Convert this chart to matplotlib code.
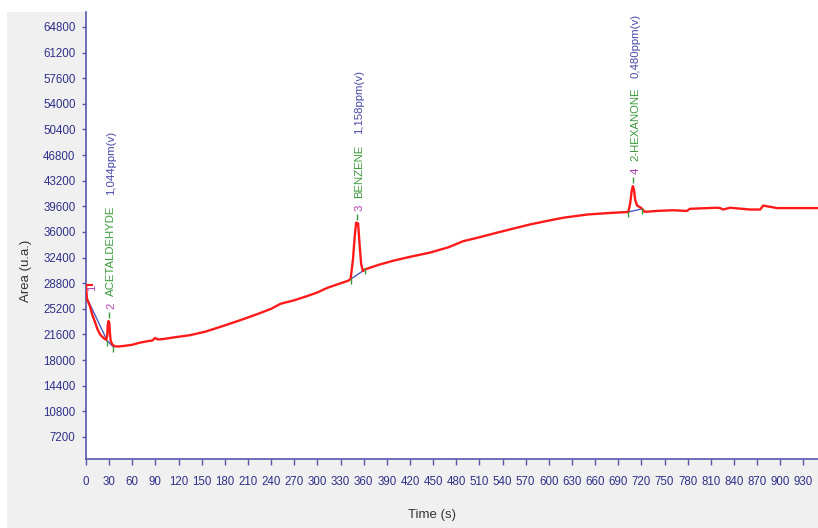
import matplotlib.pyplot as plt
from matplotlib.patches import Rectangle
from matplotlib import transforms

# chromatogram trace
time_s = [0, 1.3, 5, 8, 11.7, 15, 18, 22, 26, 27.5, 28.2, 29.2, 30.2, 31, 32, 34, 37,
          42, 50, 60, 70, 80, 86, 89.5, 93, 100, 115, 135, 155, 178, 200, 222, 240,
          252, 270, 287, 300, 313, 325, 340, 343, 346, 348.5, 350.2, 352.8, 354.5,
          356.7, 359, 362, 380, 400, 420, 446, 470, 489, 510, 533, 555, 576, 600,
          619, 650, 684, 703, 705.5, 707.5, 709, 710.5, 712, 714.5, 718, 721, 724,
          728, 740, 761, 779, 783, 818, 822, 826, 835, 861, 874, 878, 891, 896, 949]
area = [28500, 26550, 25600, 24400, 23330, 22300, 21650, 21150, 20850, 21400, 22900,
        23500, 23200, 21800, 20700, 20200, 19950, 19900, 20000, 20150, 20450, 20650,
        20750, 21100, 20900, 20950, 21200, 21500, 22000, 22800, 23600, 24450, 25200,
        25900, 26400, 27000, 27500, 28150, 28600, 29150, 29400, 32000, 35500, 37300,
        37200, 34500, 31500, 30500, 30750, 31400, 32000, 32500, 33100, 33850, 34700,
        35250, 35900, 36500, 37060, 37600, 38000, 38450, 38700, 38800, 40000, 41800,
        42430, 41900, 40500, 39700, 39500, 39250, 38850, 38850, 38950, 39050, 38950,
        39250, 39400, 39350, 39150, 39400, 39150, 39150, 39700, 39450, 39350, 39350]

# integrated peaks
peak_ids = ['1', '2', '3', '4']
peak_names = ['', 'ACETALDEHYDE', 'BENZENE', '2-HEXANONE']
peak_conc = ['', '1,044ppm(v)', '1,158ppm(v)', '0,480ppm(v)']
peak_time = [0, 29.2, 351, 709]
peak_area = [28500, 23500, 37300, 42430]
base_start_t = [0, 27.5, 343, 703]
base_start_a = [27000, 20700, 29350, 38800]
base_end_t = [27.5, 35, 362, 721]
base_end_a = [20700, 19900, 30750, 39250]

yticks = list(range(7200, 64801, 3600))
xticks = list(range(0, 931, 30))

axis_blue = '#5656aa'
tick_blue = '#30308a'
green = '#3a9a3a'
purple = '#b040b0'
conc_blue = '#4848a8'

plt.rcParams['font.family'] = ['Liberation Sans', 'DejaVu Sans']

fig = plt.figure(figsize=(8.18, 5.28), dpi=100)
fig.patch.set_facecolor('white')
fig.patches.append(Rectangle((7 / 818, 0), 1, (528 - 12) / 528, transform=fig.transFigure,
                             facecolor='#f0f0f0', edgecolor='none', zorder=-10))
ax = fig.add_axes([86 / 818, 69 / 528, 732 / 818, 447 / 528])
ax.set_facecolor('white')

# baselines under the peaks
for i in range(len(peak_ids)):
    ax.plot([base_start_t[i], base_end_t[i]], [base_start_a[i], base_end_a[i]],
            color='#4a5ac0', lw=1, zorder=2)

ax.plot(time_s, area, color='#ff1a1a', lw=1.7, zorder=3)

down = transforms.offset_copy(ax.transData, fig=fig, y=-2, units='dots')
up = transforms.offset_copy(ax.transData, fig=fig, y=6, units='dots')
ax.plot(base_start_t[1:] + base_end_t[1:], base_start_a[1:] + base_end_a[1:],
        ls='none', marker='|', ms=4, mew=1, color=green, transform=down, zorder=4)
ax.plot(peak_time[1:], peak_area[1:], ls='none', marker='|', ms=4, mew=1,
        color=green, transform=up, zorder=4)
ax.plot(peak_time[:1], peak_area[:1], ls='none', marker='_', ms=10, mew=1.5,
        color='#ff1a1a', zorder=4)

# peak labels, stacked vertically above each apex
for i in range(len(peak_ids)):
    if not peak_names[i]:
        ax.annotate(peak_ids[i], (peak_time[i], peak_area[i]), xytext=(4.5, -1.5),
                    textcoords='offset points', rotation=90, ha='center', va='center',
                    color=purple, fontsize=8.2)
        continue
    num = ax.annotate(peak_ids[i], (peak_time[i], peak_area[i]), xytext=(2, 11),
                      textcoords='offset points', rotation=90, ha='center',
                      va='center', color=purple, fontsize=8.2)
    name = ax.annotate(peak_names[i], (0.5, 1), xycoords=num, xytext=(0, 4.5),
                       textcoords='offset points', rotation=90, ha='center',
                       va='bottom', color=green, fontsize=8.2)
    ax.annotate(peak_conc[i], (0.5, 1), xycoords=name, xytext=(0, 7.5),
                textcoords='offset points', rotation=90, ha='center', va='bottom',
                color=conc_blue, fontsize=8.2)

ax.set_xlim(0, 949)
ax.set_ylim(4100, 66900)
ax.set_xticks(xticks)
ax.set_yticks(yticks)
ax.tick_params(axis='x', colors=axis_blue, labelcolor=tick_blue, labelsize=8.3,
               length=4.5, width=1, pad=7.5)
ax.tick_params(axis='y', colors=axis_blue, labelcolor=tick_blue, labelsize=8.3,
               length=3, width=1, pad=4.5)
for side in ['top', 'right']:
    ax.spines[side].set_visible(False)
for side in ['left', 'bottom']:
    ax.spines[side].set_color(axis_blue)
    ax.spines[side].set_linewidth(1.2)

ax.set_xlabel('Time (s)', fontsize=9.5, color='#333333')
ax.set_ylabel('Area (u.a.)', fontsize=9.5, color='#333333')
ax.xaxis.set_label_coords(0.473, -0.112)
ax.yaxis.set_label_coords(-0.074, 0.42)

fig.savefig('out.png', dpi=100)
